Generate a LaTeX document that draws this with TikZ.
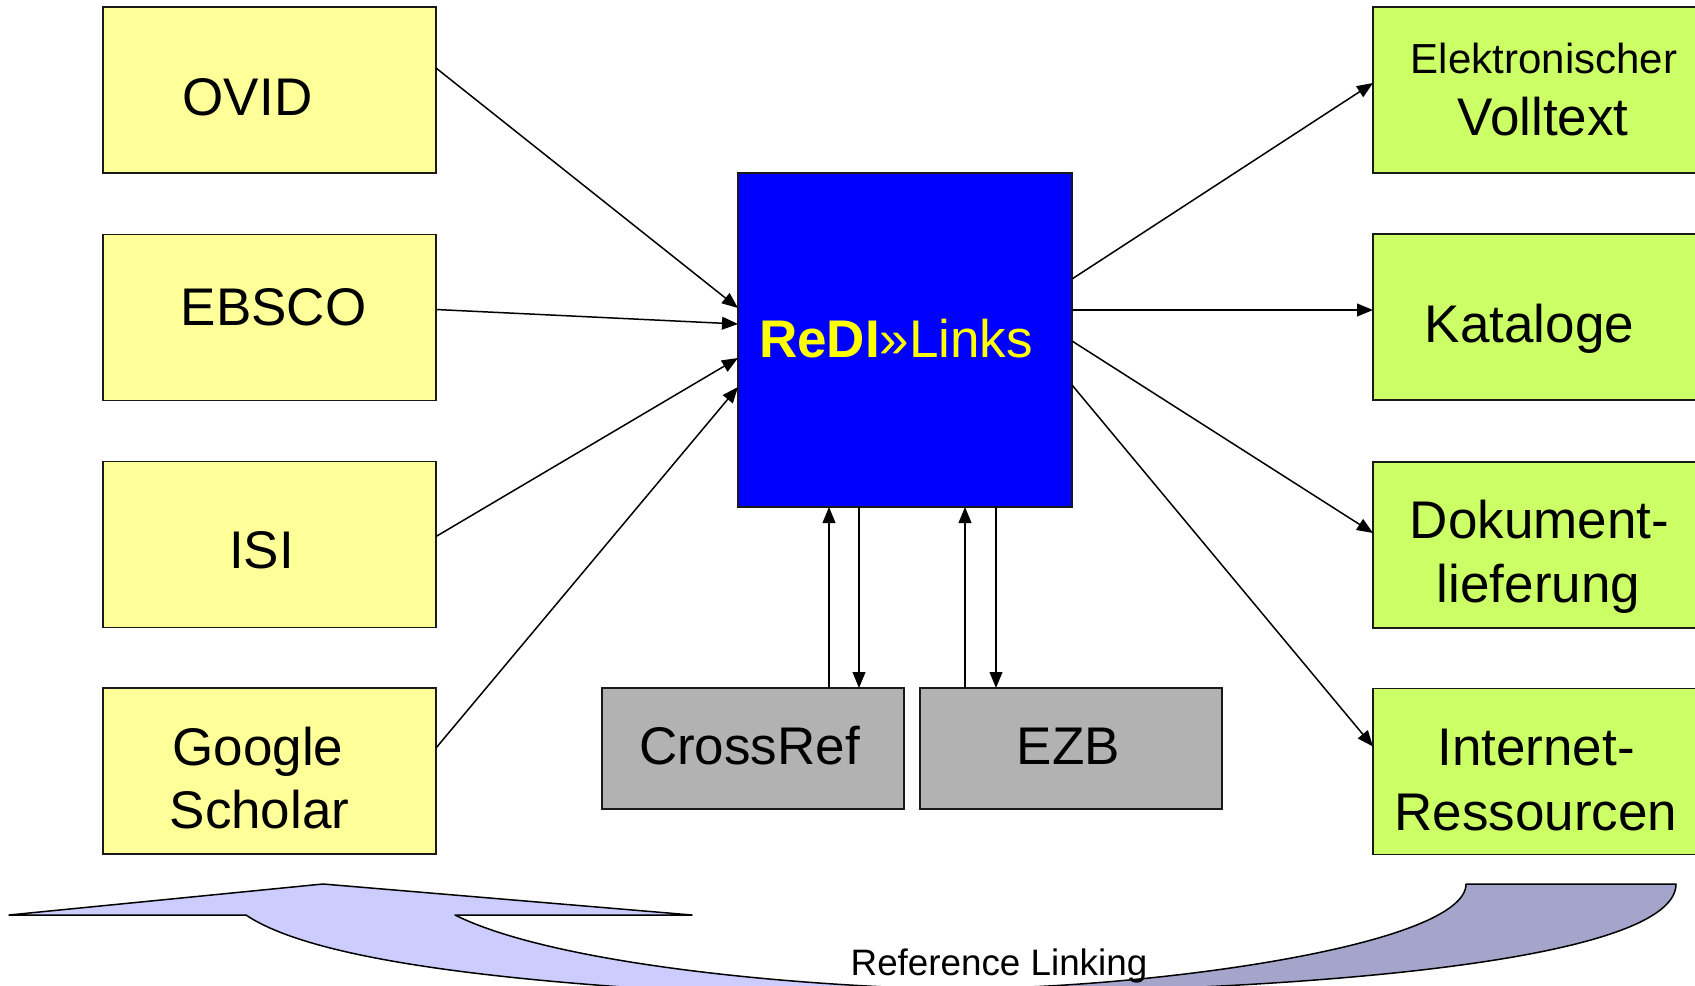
\documentclass[tikz,border=0pt]{standalone}
\usepackage{fontspec}
\setmainfont{Liberation Sans}
\usetikzlibrary{arrows.meta,calc}
\definecolor{yel}{HTML}{FFFF99}
\definecolor{grn}{HTML}{CCFF66}
\definecolor{blu}{HTML}{0000FF}
\definecolor{gry}{HTML}{B2B2B2}
\definecolor{lav}{HTML}{CCCCFF}
\definecolor{lavd}{HTML}{A5A5CC}
\definecolor{edge}{HTML}{1A1A1A}
\definecolor{redtxt}{HTML}{FFFF00}
\begin{document}
\begin{tikzpicture}[x=0.5pt,y=-0.5pt,
 box/.style={draw=edge,line width=0.9pt,minimum width=166.5pt,minimum height=83pt,inner sep=0pt,outer sep=0pt},
 src/.style={box,fill=yel},
 tgt/.style={box,fill=grn},
 ext/.style={draw=edge,line width=0.9pt,fill=gry,minimum width=151pt,minimum height=60.5pt,inner sep=0pt,outer sep=0pt},
 core/.style={draw=edge,line width=0.9pt,fill=blu,minimum width=167pt,minimum height=167pt,inner sep=0pt,outer sep=0pt},
 big/.style={font=\fontsize{26.5}{32}\selectfont,anchor=base,inner sep=0pt},
 mid/.style={font=\fontsize{21}{25}\selectfont,anchor=base,inner sep=0pt},
 small/.style={font=\fontsize{18.4}{22}\selectfont,anchor=base,inner sep=0pt},
 link/.style={line width=0.75pt,-{Triangle[length=8pt,width=6.4pt]}},
 band/.style={draw=black,line width=0.75pt,line join=round}
]
\useasboundingbox (0,0) rectangle (1695,985);

% bottom curved arrow
\filldraw[band,fill=lavd] (1466,884) -- (1676,884)
  .. controls (1676,950) and (1400,985) .. (1050,992) -- (940,1040) -- (940,989)
  .. controls (1150,990) and (1466,945) .. (1466,884) -- cycle;
\filldraw[band,fill=lav] (246,915) -- (9,915) -- (323,884) -- (692,915) -- (455,915)
  .. controls (545,960) and (760,984) .. (940,989) -- (960,1040) -- (900,1000)
  .. controls (550,990) and (320,965) .. (246,915) -- cycle;
\node[small] (reflink) at (999,975) {Reference Linking};

% sources
\node[src] (ovid) at (269.5,90) {};
\node[src] (ebsco) at (269.5,317.5) {};
\node[src] (isi) at (269.5,544.5) {};
\node[src] (google) at (269.5,771) {};
\node[big] (ovidt) at (247.5,115) {OVID};
\node[big] (ebscot) at (273.5,325) {EBSCO};
\node[big] (isit) at (261.5,568) {ISI};
\node[big] (googlet) at (258,765) {Google};
\node[big] (scholart) at (259.5,828) {Scholar};

% core
\node[core] (redi) at (905,340) {};
\node[big,text=redtxt] (redit) at (896,357) {\textbf{ReDI}»Links};

% external services
\node[ext] (crossref) at (753,748.5) {};
\node[ext] (ezb) at (1071,748.5) {};
\node[big] (crossreft) at (749.5,764) {CrossRef};
\node[big] (ezbt) at (1068.5,764) {EZB};

% targets
\node[tgt] (elek) at (1539.5,90) {};
\node[tgt] (kat) at (1539.5,317) {};
\node[tgt] (dok) at (1539.5,545) {};
\node[tgt] (inet) at (1539.5,771.5) {};
\node[mid] (elekt) at (1544,73) {Elektronischer};
\node[big] (vollt) at (1543,135) {Volltext};
\node[big] (katt) at (1529.5,342) {Kataloge};
\node[big] (dokt) at (1539.5,538) {Dokument-};
\node[big] (liefert) at (1538.5,602) {lieferung};
\node[big] (inett) at (1536,765) {Internet-};
\node[big] (resst) at (1536,830) {Ressourcen};

% links into core
\draw[link] ($(ovid.north east)+(0,61)$) -- ($(redi.north west)+(0,135)$);
\draw[link] ($(ebsco.north east)+(0,75)$) -- ($(redi.north west)+(0,151)$);
\draw[link] ($(isi.north east)+(0,75)$) -- ($(redi.north west)+(0,185)$);
\draw[link] ($(google.north east)+(0,60)$) -- ($(redi.north west)+(0,214)$);

% links out of core
\draw[link] ($(redi.north east)+(0,106)$) -- ($(elek.north west)+(0,76)$);
\draw[link] ($(redi.north east)+(0,137)$) -- ($(kat.north west)+(0,76)$);
\draw[link] ($(redi.north east)+(0,168)$) -- ($(dok.north west)+(0,71)$);
\draw[link] ($(redi.north east)+(0,212)$) -- ($(inet.north west)+(0,58)$);

% core <-> services
\draw[link] ($(crossref.north west)+(227,0)$) -- ($(redi.south west)+(91,0)$);
\draw[link] ($(redi.south west)+(121,0)$) -- ($(crossref.north west)+(257,0)$);
\draw[link] ($(ezb.north west)+(45,0)$) -- ($(redi.south west)+(227,0)$);
\draw[link] ($(redi.south west)+(258,0)$) -- ($(ezb.north west)+(76,0)$);
\end{tikzpicture}
\end{document}
